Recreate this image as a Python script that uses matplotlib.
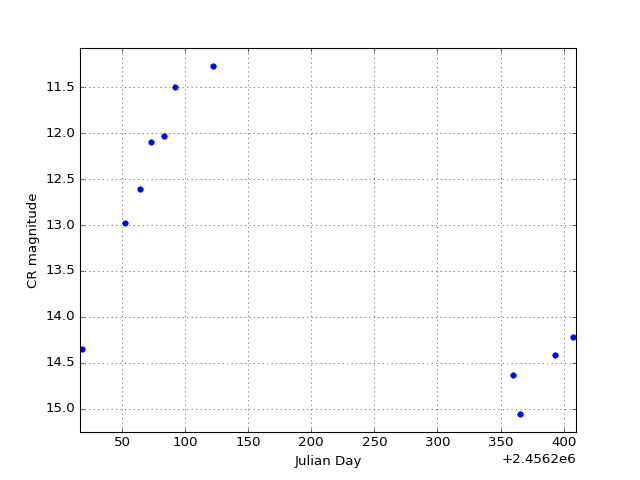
import matplotlib
matplotlib.use("Agg")
import matplotlib.pyplot as plt
from matplotlib.ticker import ScalarFormatter

plt.style.use("classic")

offset = 2456200.0
jd_rel = [18.6, 52.4, 64.0, 73.3, 83.1, 92.3, 121.9, 359.8, 365.6, 392.9, 407.6]
mag = [14.354, 12.975, 12.608, 12.093, 12.031, 11.50, 11.271, 14.631, 15.056, 14.419, 14.217]
jd = [offset + v for v in jd_rel]

fig = plt.figure(figsize=(8, 6), dpi=80)
ax = fig.add_subplot(111)
ax.plot(jd, mag, 'o', color='blue', mec='blue', markersize=5)
ax.set_xlim(offset + 16.7, offset + 409.8)
ax.set_ylim(15.254, 11.072)
fmt = ScalarFormatter(useOffset=offset)
ax.xaxis.set_major_formatter(fmt)
ax.grid(True)
ax.set_xlabel("Julian Day")
ax.set_ylabel("CR magnitude")
fig.savefig("out.png", dpi=80)
